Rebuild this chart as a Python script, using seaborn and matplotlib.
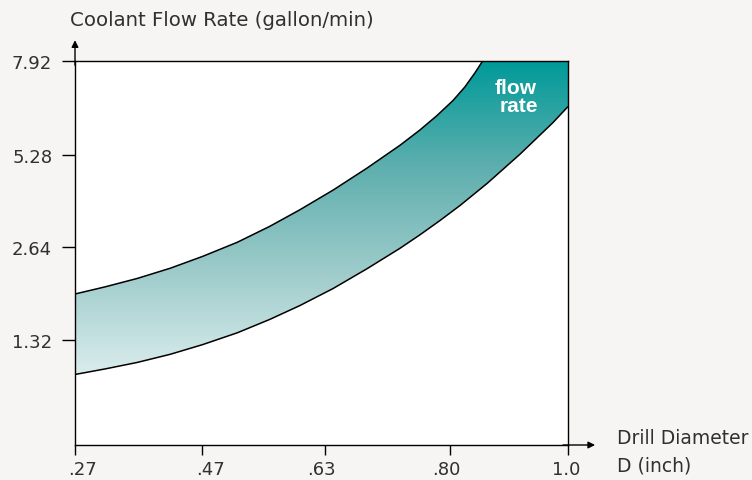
import numpy as np
import matplotlib
matplotlib.use("Agg")
import matplotlib.pyplot as plt
import matplotlib.transforms as mtransforms
import seaborn as sns
from matplotlib.colors import LinearSegmentedColormap

# ---- data ----
x_ticks = [0.27, 0.47, 0.63, 0.80, 1.0]
x_tick_labels = [".27", ".47", ".63", ".80", "1.0"]
y_ticks = [1.32, 2.64, 5.28, 7.92]
y_tick_labels = ["1.32", "2.64", "5.28", "7.92"]

# upper edge of the flow-rate band (drill diameter in inch, flow in gallon/min)
upper_d = [0.270, 0.317, 0.368, 0.420, 0.471, 0.516, 0.558, 0.597, 0.641,
           0.687, 0.732, 0.759, 0.782, 0.805, 0.825, 0.842, 0.855]
upper_q = [1.973, 2.074, 2.195, 2.341, 2.511, 2.784, 3.236, 3.706, 4.271,
           4.896, 5.547, 5.977, 6.381, 6.810, 7.190, 7.586, 7.920]
# lower edge of the band
lower_d = [0.270, 0.317, 0.368, 0.420, 0.471, 0.516, 0.558, 0.597, 0.641,
           0.687, 0.732, 0.759, 0.786, 0.817, 0.863, 0.919, 0.975, 1.0]
lower_q = [0.884, 0.953, 1.035, 1.137, 1.259, 1.419, 1.609, 1.806, 2.051,
           2.333, 2.626, 2.994, 3.398, 3.832, 4.462, 5.300, 6.196, 6.640]

# the chart's axes are not linear in value: knots (value -> relative position)
x_knot_val = [0.27, 0.47, 0.63, 0.80, 1.0]
x_knot_pos = [0, 127, 250, 375, 493]
y_knot_val = [0.0, 1.32, 2.64, 5.28, 7.92]
y_knot_pos = [0, 105.3, 197.7, 290.3, 383.7]


def piecewise(a, b):
    a = np.asarray(a, float)
    b = np.asarray(b, float)
    s0 = (b[1] - b[0]) / (a[1] - a[0])
    s1 = (b[-1] - b[-2]) / (a[-1] - a[-2])

    def f(v):
        v = np.asarray(v, float)
        out = np.interp(v, a, b)
        out = np.where(v < a[0], b[0] + (v - a[0]) * s0, out)
        out = np.where(v > a[-1], b[-1] + (v - a[-1]) * s1, out)
        return out
    return f


sns.set_theme(style="white")
TXT = ['DejaVu Sans']
plt.rcParams['font.family'] = TXT
TXT_COLOR = '#303030'

W, H = 752, 481
fig = plt.figure(figsize=(W / 100, H / 100), dpi=100)
fig.patch.set_facecolor('#f6f5f3')
left, right, top, bottom = 75, 568, 62.3, 446
ax = fig.add_axes([left / W, 1 - bottom / H, (right - left) / W,
                   (bottom - top) / H])
ax.set_facecolor('white')

ax.set_xscale('function', functions=(piecewise(x_knot_val, x_knot_pos),
                                     piecewise(x_knot_pos, x_knot_val)))
ax.set_yscale('function', functions=(piecewise(y_knot_val, y_knot_pos),
                                     piecewise(y_knot_pos, y_knot_val)))

# band polygon: upper edge, top-right corner, lower edge back
poly_x = list(upper_d) + [x_ticks[-1]] + list(lower_d[::-1])
poly_y = list(upper_q) + [y_ticks[-1]] + list(lower_q[::-1])
poly = ax.fill(poly_x, poly_y, facecolor='none', edgecolor='none')[0]

# vertical gradient, clipped to band
n = 256
f = np.linspace(0, 1, n)[:, None]  # axes fraction, bottom->top
t = np.clip((f - 0.18) / (1 - 0.18), 0, 1)
cmap = LinearSegmentedColormap.from_list(
    'teal', ['#dbeded', '#9dcbca', '#5eafae', '#009a99'])
im = ax.imshow(t, cmap=cmap, vmin=0, vmax=1, origin='lower', aspect='auto',
               extent=(0, 1, 0, 1), transform=ax.transAxes,
               interpolation='bilinear', zorder=1)
im.set_clip_path(poly)

for xs, ys in ((upper_d, upper_q), (lower_d, lower_q)):
    sns.lineplot(x=xs, y=ys, color='black', lw=1.1, ax=ax, sort=False,
                 zorder=3, solid_joinstyle='round', solid_capstyle='butt')

ax.set_xlim(x_ticks[0], x_ticks[-1])
ax.set_ylim(0.0, y_ticks[-1])
ax.set_xticks(x_ticks)
ax.set_xticklabels(x_tick_labels)
ax.set_yticks(y_ticks)
ax.set_yticklabels(y_tick_labels)
ax.set_xlabel('')
ax.set_ylabel('')

for s in ax.spines.values():
    s.set_visible(True)
    s.set_color('black')
    s.set_linewidth(1.0)
    s.set_zorder(4)

ax.tick_params(axis='y', direction='out', length=9.4, width=1.0, pad=7,
               labelsize=13, colors='black', labelcolor=TXT_COLOR, left=True)
ax.tick_params(axis='x', direction='out', length=7, width=1.0, pad=3.5,
               labelsize=13, colors='black', labelcolor=TXT_COLOR,
               bottom=True)
ax.grid(False)

# the reference places its x tick labels slightly off-centre (pixels)
label_shift_px = [7, 9, -3.5, -4, -2]
for lab, dx in zip(ax.get_xticklabels(), label_shift_px):
    lab.set_transform(lab.get_transform() +
                      mtransforms.ScaledTranslation(dx / 100, 0,
                                                    fig.dpi_scale_trans))

# axis arrows
ax.annotate('', xy=(0, 1.055), xytext=(0, 0.99), xycoords='axes fraction',
            arrowprops=dict(arrowstyle='-|>', color='black', lw=1.0,
                            mutation_scale=10, shrinkA=0, shrinkB=0),
            annotation_clip=False)
ax.annotate('', xy=(1.055, 0), xytext=(0.99, 0), xycoords='axes fraction',
            arrowprops=dict(arrowstyle='-|>', color='black', lw=1.0,
                            mutation_scale=10, shrinkA=0, shrinkB=0),
            annotation_clip=False)

fig.text(70 / W, 1 - 20 / H, 'Coolant Flow Rate (gallon/min)',
         ha='left', va='center', fontsize=14.2, color=TXT_COLOR)
fig.text(617 / W, 1 - 438 / H, 'Drill Diameter', ha='left', va='center',
         fontsize=13.5, color=TXT_COLOR)
fig.text(617 / W, 1 - 466 / H, 'D (inch)', ha='left', va='center',
         fontsize=13.5, color=TXT_COLOR)

BOLD = ['Liberation Sans', 'DejaVu Sans']
fig.text(537 / W, 1 - 88 / H, 'flow', ha='right', va='center',
         fontsize=15, color='white', fontweight='bold', family=BOLD, zorder=5)
fig.text(538 / W, 1 - 107 / H, 'rate', ha='right', va='center',
         fontsize=15, color='white', fontweight='bold', family=BOLD, zorder=5)

fig.savefig('out.png', dpi=100, facecolor=fig.get_facecolor())
